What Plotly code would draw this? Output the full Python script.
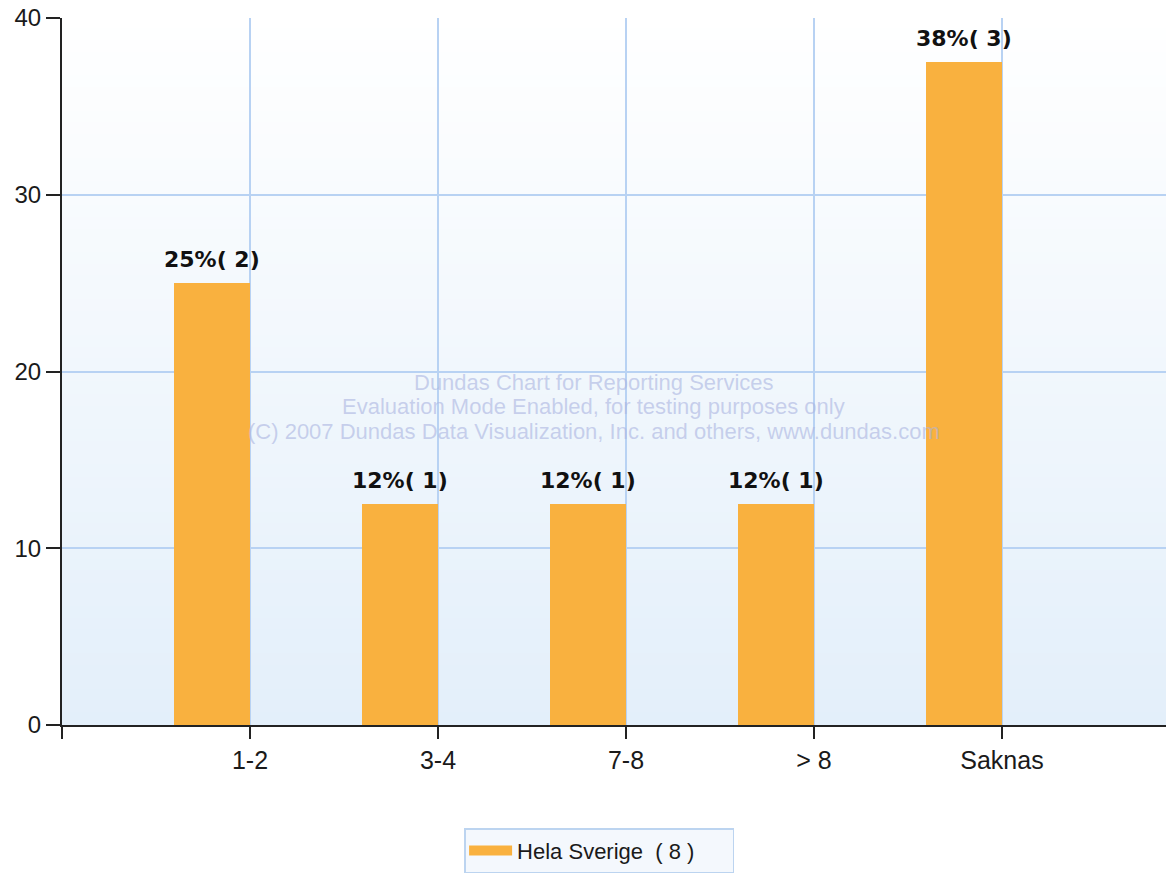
import plotly.graph_objects as go

categories = ["1-2", "3-4", "7-8", "> 8", "Saknas"]
percent_values = [25, 12.5, 12.5, 12.5, 37.5]
counts = [2, 1, 1, 1, 3]
pct_labels = ["25%", "12%", "12%", "12%", "38%"]
series_name = "Hela Sverige  ( 8 )"
y_ticks = [0, 10, 20, 30, 40]
watermark_lines = [
    "Dundas Chart for Reporting Services",
    "Evaluation Mode Enabled, for testing purposes only",
    "(C) 2007 Dundas Data Visualization, Inc. and others, www.dundas.com",
]

positions = list(range(1, len(categories) + 1))
bar_labels = [f"{p}( {c})" for p, c in zip(pct_labels, counts)]
BAR_COLOR = "#f9b13f"
BAR_WIDTH = 0.404

fig = go.Figure()
fig.add_trace(go.Bar(
    x=positions,
    y=percent_values,
    width=BAR_WIDTH,
    offset=-BAR_WIDTH,
    name=series_name,
    legendgroup="s1",
    showlegend=False,
    marker=dict(color=BAR_COLOR, line=dict(width=0)),
))
# legend entry for the bar series (wide swatch like the original)
fig.add_trace(go.Scatter(
    x=[None], y=[None], mode="lines",
    name=series_name, legendgroup="s1",
    line=dict(color=BAR_COLOR, width=17),
    showlegend=True, hoverinfo="skip",
))

# gradient background of the plot area
n = 60
top = (255, 255, 255)
bot = (227, 239, 250)
shapes = []
for i in range(n):
    t = (i + 0.5) / n
    c = tuple(round(top[k] + (bot[k] - top[k]) * t) for k in range(3))
    shapes.append(dict(
        type="rect", xref="x domain", yref="y domain",
        x0=0, x1=1, y0=1 - (i + 1) / n, y1=min(1.0, 1 - i / n + 0.002),
        fillcolor=f"rgb{c}", line=dict(width=0), layer="below",
    ))

# value labels above the bars
annotations = [
    dict(text=lab, x=pos - BAR_WIDTH / 2, y=val, xref="x", yref="y",
         xanchor="center", yanchor="bottom", yshift=9, showarrow=False,
         font=dict(family="DejaVu Sans", size=22, color="#111111", weight="bold"))
    for pos, val, lab in zip(positions, percent_values, bar_labels)
]

wm_y = [0.4851, 0.4498, 0.4158]
annotations += [
    dict(text=line, xref="paper", yref="paper", x=0.4784, y=yy,
         xanchor="center", yanchor="middle", showarrow=False,
         font=dict(size=22, family="Liberation Sans, Arial", color="rgba(170,180,225,0.6)"))
    for line, yy in zip(watermark_lines, wm_y)
]

fig.update_layout(
    width=1166, height=868,
    margin=dict(l=54, r=0, t=10, b=151, autoexpand=False),
    paper_bgcolor="white",
    plot_bgcolor="white",
    shapes=shapes,
    annotations=annotations,
    font=dict(family="Liberation Sans, Arial", color="#1a1a1a"),
    bargap=0,
    showlegend=True,
    legend=dict(
        orientation="h",
        x=0.483, xanchor="center",
        y=-0.146, yanchor="top",
        bgcolor="#f4f8fd",
        bordercolor="#bcd4f0",
        borderwidth=1.5,
        itemwidth=43,
        entrywidth=210,
        font=dict(size=22, family="Liberation Sans, Arial", color="#1a1a1a"),
    ),
)

fig.update_xaxes(
    range=[0, 5.915],
    tickmode="array",
    tickvals=[0] + positions,
    ticktext=[""] + categories,
    ticks="outside", ticklen=12, tickwidth=2, tickcolor="#222222",
    tickfont=dict(size=25, family="Liberation Sans, Arial", color="#1a1a1a"),
    showline=True, linecolor="#222222", linewidth=2,
    showgrid=True, gridcolor="#b8d2f3", gridwidth=1.5,
    zeroline=False,
    ticklabeloverflow="allow",
)
fig.update_yaxes(
    range=[0, 40],
    tickmode="array",
    tickvals=y_ticks,
    ticks="outside", ticklen=14, tickwidth=2, tickcolor="#222222",
    tickfont=dict(size=24, family="Liberation Sans, Arial", color="#1a1a1a"),
    showline=True, linecolor="#222222", linewidth=2,
    showgrid=True, gridcolor="#b8d2f3", gridwidth=1.5,
    zeroline=False,
    ticklabeloverflow="allow",
)

fig.write_html("out.html")
